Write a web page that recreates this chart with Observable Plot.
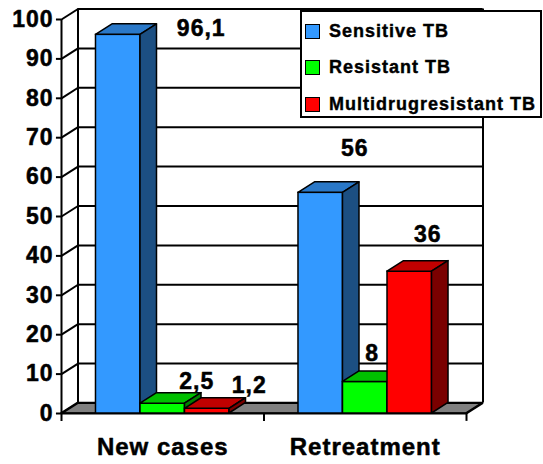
<!DOCTYPE html>
<html>
<head>
<meta charset="utf-8">
<script src="https://cdn.jsdelivr.net/npm/d3@7"></script>
<script src="https://cdn.jsdelivr.net/npm/@observablehq/plot@0.6"></script>
<style>
  body { margin: 0; background: #fff; }
  #wrap { position: relative; width: 543px; height: 464px; font-family: "Liberation Sans", Arial, sans-serif; }
  #wrap svg text { letter-spacing: 1px; }
  #legend { position: absolute; left: 300px; top: 10px; width: 238px; height: 104px; border: 2px solid #000; background: #fff; }
  .item { position: absolute; left: 3px; height: 16px; display: flex; align-items: center; font-weight: bold; font-size: 18px; letter-spacing: 1px; color: #000; white-space: nowrap; -webkit-text-stroke: 0.4px #000; }
  .sw { width: 13px; height: 13px; border: 1px solid #000; margin-right: 9px; }
</style>
</head>
<body>
<div id="wrap"></div>
<script>
// ---- data ----
const categories = ["New cases", "Retreatment"];
const series = ["Sensitive TB", "Resistant TB", "Multidrugresistant TB"];
const sensitiveTB = [96.1, 56];
const resistantTB = [2.5, 8];
const multidrugTB = [1.2, 36];
const yTicks = [0, 10, 20, 30, 40, 50, 60, 70, 80, 90, 100];

// ---- styling / layout (not data) ----
const faceColors = [
  {front: "#3399ff", top: "#2a78c8", side: "#1c4f82"},
  {front: "#00ff00", top: "#00c000", side: "#008000"},
  {front: "#ff0000", top: "#c00000", side: "#7a0000"}
];
const labelNudge = [[83, -6], [34, -22], [42, -23], [34, -44], [7, -28], [18, -37]];
const DX = 0.0815, DY = 2.67;   // 3-D depth in scale units
const BW = 0.2198;              // bar width in scale units
const textStroke = {stroke: "#000", strokeWidth: 0.5};

const values = [sensitiveTB, resistantTB, multidrugTB];
const bars = categories.flatMap((c, i) => series.map((s, j) => {
  const x1 = i + 0.5 + (j - 1.5) * BW;
  return {cat: c, series: s, j, value: values[j][i], x1, x2: x1 + BW};
}));

const barMarks = bars.flatMap(b => [
  Plot.rect([b], {x1: "x1", x2: "x2", y1: 0, y2: "value", fill: faceColors[b.j].front, stroke: "#000", strokeWidth: 1.5}),
  Plot.areaX([{y: b.value, a: b.x1, c: b.x2}, {y: b.value + DY, a: b.x1 + DX, c: b.x2 + DX}],
    {y: "y", x1: "a", x2: "c", fill: faceColors[b.j].top, stroke: "#000", strokeWidth: 1.5}),
  Plot.areaY([{x: b.x2, a: 0, c: b.value}, {x: b.x2 + DX, a: DY, c: b.value + DY}],
    {x: "x", y1: "a", y2: "c", fill: faceColors[b.j].side, stroke: "#000", strokeWidth: 1.5})
]);

const labelMarks = bars.map((b, k) => Plot.text([b], {
  x: d => (d.x1 + d.x2) / 2, y: "value", text: d => String(d.value).replace(".", ","),
  dx: labelNudge[k][0], dy: labelNudge[k][1], fontSize: 23, fontWeight: "bold", fill: "#000", ...textStroke
}));

const chart = Plot.plot({
  width: 543, height: 464,
  marginLeft: 61, marginRight: 77, marginTop: 19, marginBottom: 51,
  x: {domain: [0, 2], axis: null},
  y: {domain: [0, 100], axis: null},
  style: {background: "transparent", overflow: "visible", fontFamily: "'Liberation Sans', Arial, sans-serif", color: "#000"},
  marks: [
    // floor
    Plot.areaX([{y: 0, a: 0, c: 2}, {y: DY, a: DX, c: 2 + DX}], {y: "y", x1: "a", x2: "c", fill: "#808080", stroke: "#000", strokeWidth: 1.5}),
    // back wall grid
    Plot.ruleY(yTicks, {y: d => d + DY, x1: DX, x2: 2 + DX, stroke: "#000", strokeWidth: 2}),
    Plot.ruleX([DX, 2 + DX], {y1: DY, y2: 100 + DY, stroke: "#000", strokeWidth: 2}),
    // diagonals from front axis to the wall
    Plot.link(yTicks, {x1: 0, y1: d => d, x2: DX, y2: d => d + DY, stroke: "#000", strokeWidth: 2}),
    // front axis, ticks
    Plot.ruleX([0], {y1: -2, y2: 100, stroke: "#000", strokeWidth: 2}),
    Plot.ruleY(yTicks, {x1: -0.025, x2: 0, stroke: "#000", strokeWidth: 2}),
    Plot.ruleY([0], {x1: 0, x2: 2, stroke: "#000", strokeWidth: 2}),
    Plot.ruleX([1, 2], {y1: -2, y2: 0, stroke: "#000", strokeWidth: 2}),
    Plot.link([0], {x1: 2, y1: 0, x2: 2 + DX, y2: DY, stroke: "#000", strokeWidth: 2}),
    // y tick labels
    Plot.text(yTicks, {x: 0, y: d => d, dx: -8, textAnchor: "end", fontSize: 23, fontWeight: "bold", fill: "#000", ...textStroke}),
    ...barMarks,
    ...labelMarks,
    // category labels
    Plot.text(categories, {x: (d, i) => i + 0.5, y: 0, dy: 34, fontSize: 24, fontWeight: "bold", fill: "#000", ...textStroke})
  ]
});

const wrap = document.getElementById("wrap");
wrap.appendChild(chart);

// legend
const legend = document.createElement("div");
legend.id = "legend";
series.forEach((s, j) => {
  const item = document.createElement("div");
  item.className = "item";
  item.style.top = (11 + j * 36.5) + "px";
  const sw = document.createElement("span");
  sw.className = "sw";
  sw.style.background = faceColors[j].front;
  item.appendChild(sw);
  item.appendChild(document.createTextNode(s));
  legend.appendChild(item);
});
wrap.appendChild(legend);
</script>
</body>
</html>
